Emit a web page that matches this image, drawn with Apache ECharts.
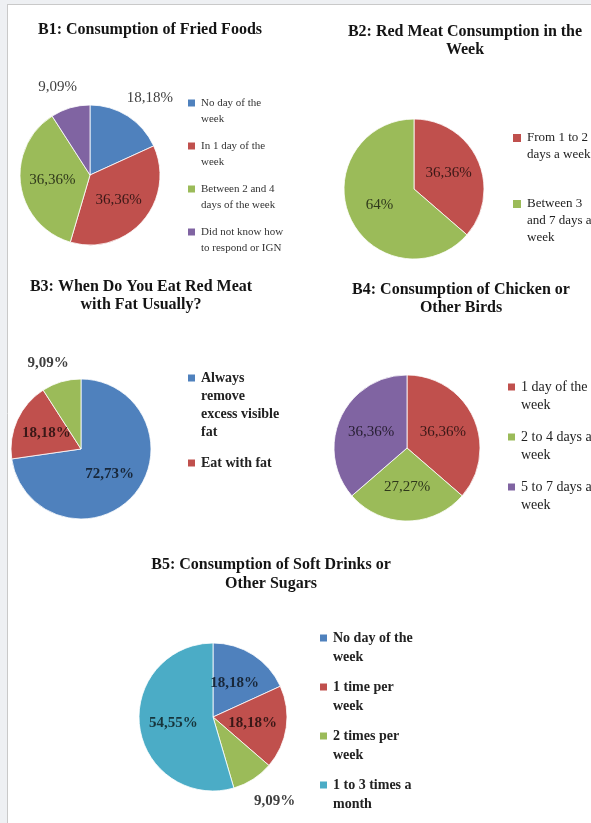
<!DOCTYPE html>
<html><head><meta charset="utf-8">
<script src="https://cdn.jsdelivr.net/npm/echarts@6/dist/echarts.min.js"></script>
<style>html,body{margin:0;padding:0;background:#fff;}#c{width:591px;height:823px;}</style>
</head><body><div id="c"></div>
<script>
// ---- data ----
const b1Categories = ['No day of the\nweek', 'In 1 day of the\nweek', 'Between 2 and 4\ndays of the week', 'Did not know how\nto respond or IGN'];
const b1Values = [18.18, 36.36, 36.36, 9.09];

const b2Categories = ['From 1 to 2\ndays a week', 'Between 3\nand 7 days a\nweek'];
const b2Values = [36.36, 63.64];
const b2Labels = ['36,36%', '64%'];

const b3Categories = ['Always\nremove\nexcess visible\nfat', 'Eat with fat', 'Other'];
const b3Values = [72.73, 18.18, 9.09];
const b3LegendItems = ['Always\nremove\nexcess visible\nfat', 'Eat with fat'];

const b4Categories = ['1 day of the\nweek', '2 to 4 days a\nweek', '5 to 7 days a\nweek'];
const b4Values = [36.36, 27.27, 36.36];

const b5Categories = ['No day of the\nweek', '1 time per\nweek', '2 times per\nweek', '1 to 3 times a\nmonth'];
const b5Values = [18.18, 18.18, 9.09, 54.55];

const titles = [
  'B1: Consumption of Fried Foods',
  'B2: Red Meat Consumption in the\nWeek',
  'B3: When Do You Eat Red Meat\nwith Fat Usually?',
  'B4: Consumption of Chicken or\nOther Birds',
  'B5: Consumption of Soft Drinks or\nOther Sugars'
];

// ---- styles ----
const C = {blue: '#4F81BD', red: '#C0504D', green: '#9BBB59', purple: '#8064A2', teal: '#4BACC6'};
const SERIF = '"Liberation Serif", "DejaVu Serif", serif';

function fmtPct(v) { return v.toFixed(2).replace('.', ',') + '%'; }
function darken(hex, k) {
  const n = parseInt(hex.slice(1), 16);
  const r = Math.round(((n >> 16) & 255) * k), g = Math.round(((n >> 8) & 255) * k), b = Math.round((n & 255) * k);
  return 'rgb(' + r + ',' + g + ',' + b + ')';
}

function pie(cats, vals, colors, center, radius, outside, cfg, labels) {
  return {
    type: 'pie', center: center, radius: radius, startAngle: 90, clockwise: true,
    avoidLabelOverlap: false, silent: true,
    itemStyle: {borderColor: '#ffffff', borderWidth: 0.8},
    label: {
      position: 'inside', fontFamily: SERIF, fontSize: cfg.fs, fontWeight: cfg.fw,
      formatter: p => labels ? labels[p.dataIndex] : fmtPct(p.value)
    },
    labelLine: {show: false},
    emphasis: {disabled: true},
    data: cats.map((n, i) => {
      const o = {name: n, value: vals[i], itemStyle: {color: colors[i]}};
      if (outside.indexOf(i) >= 0) {
        o.label = {position: 'outside', color: '#3f3f3f', distanceToLabelLine: 5};
        o.labelLine = {show: false, length: cfg.len, length2: cfg.len2};
      } else {
        o.label = {color: darken(colors[i], 0.3)};
      }
      return o;
    })
  };
}

function legend(items, left, top, cfg) {
  return {
    data: items, orient: 'vertical', left: left, top: top, padding: 0,
    icon: 'rect', itemWidth: cfg.iw, itemHeight: cfg.iw, itemGap: cfg.gap,
    selectedMode: false,
    formatter: n => '\n'.repeat(n.split('\n').length - 1) + n,
    textStyle: {fontFamily: SERIF, fontSize: cfg.fs, fontWeight: cfg.fw, lineHeight: cfg.lh, color: cfg.color}
  };
}

function titleText(text, x, y, lh) {
  return {
    type: 'text', x: x, y: y, silent: true,
    style: {text: text, align: 'center', verticalAlign: 'middle', fontFamily: SERIF,
            fontSize: 16, fontWeight: 'bold', lineHeight: lh, fill: '#141414'}
  };
}

const chart = echarts.init(document.getElementById('c'), null, {renderer: 'canvas'});
chart.setOption({
  animation: false,
  backgroundColor: '#ffffff',
  graphic: [
    {type: 'rect', shape: {x: 0, y: 0, width: 7, height: 823}, style: {fill: '#eef0f3'}, silent: true},
    {type: 'rect', shape: {x: 0, y: 0, width: 591, height: 4}, style: {fill: '#eef0f3'}, silent: true},
    {type: 'line', shape: {x1: 7.5, y1: 4, x2: 7.5, y2: 823}, style: {stroke: '#c9c9c9', lineWidth: 1}, silent: true},
    {type: 'line', shape: {x1: 7, y1: 4.5, x2: 591, y2: 4.5}, style: {stroke: '#c9c9c9', lineWidth: 1}, silent: true},
    titleText(titles[0], 150, 30, 18),
    titleText(titles[1], 465, 41, 18),
    titleText(titles[2], 141, 296, 18),
    titleText(titles[3], 461, 299, 18),
    titleText(titles[4], 271, 574.5, 19)
  ],
  legend: [
    legend(b1Categories, 186, 79, {iw: 9, gap: -5, fs: 11, fw: 'normal', lh: 16, color: '#333'}),
    legend(b2Categories, 511, 112.5, {iw: 10, gap: -2, fs: 13, fw: 'normal', lh: 17, color: '#222'}),
    legend(b3LegendItems, 186, 315, {iw: 9, gap: 13, fs: 14, fw: 'bold', lh: 18, color: '#222'}),
    legend(b4Categories, 506, 360, {iw: 9, gap: -4, fs: 14, fw: 'normal', lh: 18, color: '#222'}),
    legend(b5Categories, 318, 609.5, {iw: 9, gap: -8, fs: 14, fw: 'bold', lh: 19, color: '#222'})
  ],
  series: [
    pie(b1Categories, b1Values, [C.blue, C.red, C.green, C.purple], [90, 175], 70, [0, 3], {fs: 15, fw: 'normal', len: 22, len2: -18}),
    pie(b2Categories, b2Values, [C.red, C.green], [414, 189], 70, [], {fs: 15, fw: 'normal', len: 20, len2: -18}, b2Labels),
    pie(b3Categories, b3Values, [C.blue, C.red, C.green], [81, 449], 70, [2], {fs: 15, fw: 'bold', len: 20, len2: -18}),
    pie(b4Categories, b4Values, [C.red, C.green, C.purple], [407, 448], 73, [], {fs: 15, fw: 'normal', len: 20, len2: -18}),
    pie(b5Categories, b5Values, [C.blue, C.red, C.green, C.teal], [213, 717], 74, [2], {fs: 15, fw: 'bold', len: 26, len2: -18})
  ]
});
</script>
</body></html>
